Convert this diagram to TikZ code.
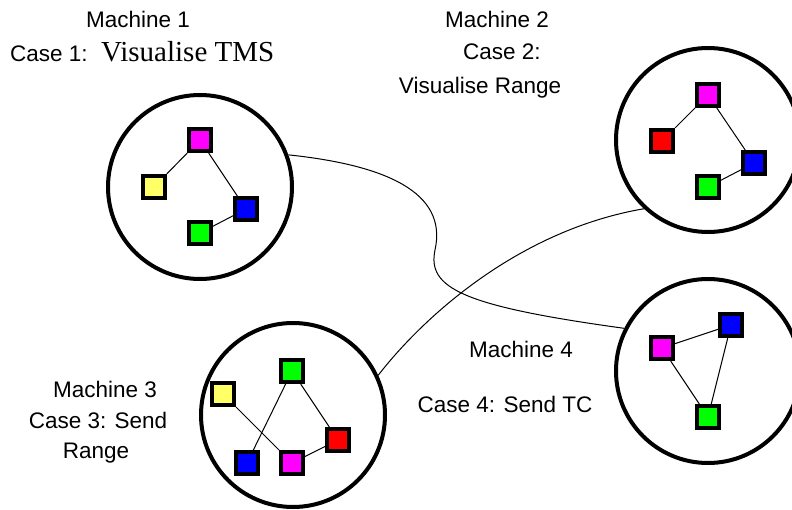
\documentclass[tikz,border=0pt]{standalone}
\usepackage{fontspec}
\setmainfont{Liberation Sans}
\newfontfamily\timesfont{Liberation Serif}
\usepackage{xcolor}
\usepackage{tikz}

\definecolor{boxmag}{RGB}{255,0,255}
\definecolor{boxyel}{RGB}{255,255,102}
\definecolor{boxblu}{RGB}{0,0,255}
\definecolor{boxgrn}{RGB}{0,255,0}
\definecolor{boxred}{RGB}{255,0,0}

\begin{document}
\begin{tikzpicture}[x=1pt, y=-1pt,
    machine/.style={draw, circle, line width=4pt, minimum size=184pt, inner sep=0},
    blk/.style={draw, line width=4pt, minimum size=22pt, inner sep=0},
    link/.style={line width=1pt},
    lbl/.style={anchor=base, inner sep=0, font=\fontsize{22.5}{27}\selectfont}]
                    \useasboundingbox (0,0) rectangle (792,510);

                    % Machine circles
                    \node[machine] (M1) at (200,187) {};
                    \node[machine] (M2) at (708,140) {};
                    \node[machine] (M3) at (293,415) {};
                    \node[machine] (M4) at (708,371) {};

                    % Network links between machines
                    \draw[link] (M1.20) .. controls (385,165) and (448,192) .. (435,250)
                                        .. controls (427,288) and (462,306) .. (M4.153);
                    \draw[link] (M3.25) .. controls (425,315) and (520,230) .. (M2.227);

                    % Machine 1 boxes
                    \node[blk, fill=boxmag] (Mag1) at (200,140) {};
                    \node[blk, fill=boxyel] (Yel1) at (154,187) {};
                    \node[blk, fill=boxblu] (Blu1) at (246,209) {};
                    \node[blk, fill=boxgrn] (Grn1) at (200,233) {};
                    \draw[link] (Mag1) -- (Yel1);
                    \draw[link] (Mag1) -- (Blu1);
                    \draw[link] (Blu1) -- (Grn1);

                    % Machine 2 boxes
                    \node[blk, fill=boxmag] (Mag2) at (708,95) {};
                    \node[blk, fill=boxred] (Red2) at (662,141) {};
                    \node[blk, fill=boxblu] (Blu2) at (754,163) {};
                    \node[blk, fill=boxgrn] (Grn2) at (708,187) {};
                    \draw[link] (Mag2) -- (Red2);
                    \draw[link] (Mag2) -- (Blu2);
                    \draw[link] (Blu2) -- (Grn2);

                    % Machine 3 boxes
                    \node[blk, fill=boxgrn] (Grn3) at (292,371) {};
                    \node[blk, fill=boxyel] (Yel3) at (223,394) {};
                    \node[blk, fill=boxred] (Red3) at (338,440) {};
                    \node[blk, fill=boxblu] (Blu3) at (247,463) {};
                    \node[blk, fill=boxmag] (Mag3) at (292,463) {};
                    \draw[link] (Grn3) -- (Blu3);
                    \draw[link] (Grn3) -- (Red3);
                    \draw[link] (Yel3) -- (Mag3);
                    \draw[link] (Mag3) -- (Red3);

                    % Machine 4 boxes
                    \node[blk, fill=boxblu] (Blu4) at (731,325) {};
                    \node[blk, fill=boxmag] (Mag4) at (662,348) {};
                    \node[blk, fill=boxgrn] (Grn4) at (708,417) {};
                    \draw[link] (Mag4) -- (Blu4);
                    \draw[link] (Mag4) -- (Grn4);
                    \draw[link] (Blu4) -- (Grn4);

                    % Labels
                    \node[lbl] (Name1) at (138,28) {Machine 1};
                    \node[lbl, anchor=base west] (Case1) at (10,62) {Case 1:};
                    \node[lbl, anchor=base west, font=\timesfont\fontsize{29}{34}\selectfont] (Task1) at (101,62) {Visualise TMS};

                    \node[lbl] (Name2) at (497,28) {Machine 2};
                    \node[lbl] (Case2) at (502,60) {Case 2:};
                    \node[lbl] (Task2) at (480,94) {Visualise Range};

                    \node[lbl] (Name3) at (105,397) {Machine 3};
                    \node[lbl] (Case3) at (98,428) {Case 3: Send};
                    \node[lbl] (Task3) at (96,458) {Range};

                    \node[lbl] (Name4) at (521,357) {Machine 4};
                    \node[lbl] (Case4) at (505,412) {Case 4: Send TC};
                \end{tikzpicture}
\end{document}
